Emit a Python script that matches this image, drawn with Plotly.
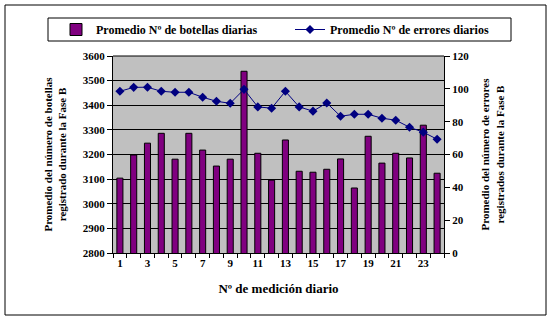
import plotly.graph_objects as go

days = list(range(1, 25))
botellas = [3104, 3198, 3246, 3286, 3181, 3286, 3218, 3153, 3181, 3538, 3205, 3096,
            3259, 3132, 3128, 3140, 3182, 3064, 3274, 3165, 3205, 3186, 3319, 3124]
errores = [98.5, 100.9, 101.0, 98.5, 97.9, 97.9, 94.9, 92.4, 91.2, 99.7, 89.0, 88.2,
           98.5, 89.0, 86.4, 91.4, 83.3, 84.5, 84.5, 82.1, 80.9, 76.6, 73.6, 69.3]
x_ticks = list(range(1, 24, 2))

FONT = "Times New Roman, Liberation Serif, serif"
L, R, T, B = 113, 444, 56, 253
W, H = 552, 321
pw, ph = R - L, B - T


def px(x):
    return (x - L) / pw


def py(y):
    return (B - y) / ph


leg_common = dict(
    orientation="h", yanchor="top", y=py(15),
    bgcolor="rgba(0,0,0,0)", borderwidth=0,
    font=dict(family=FONT, size=12, color="black", weight="bold"),
    itemwidth=30,
)

fig = go.Figure()
fig.add_trace(go.Bar(
    x=days, y=botellas, name="Promedio Nº de botellas diarias",
    marker=dict(color="#800080", line=dict(color="black", width=1)),
    yaxis="y", legend="legend",
))
fig.add_trace(go.Scatter(
    x=days, y=errores, name="Promedio Nº de errores diarios",
    mode="lines+markers",
    line=dict(color="#000080", width=1),
    marker=dict(symbol="diamond", size=7, color="#000080"),
    yaxis="y2", legend="legend2",
))

fig.update_layout(
    width=W, height=H,
    margin=dict(l=L, r=W - R, t=T, b=H - B, pad=0, autoexpand=False),
    paper_bgcolor="white", plot_bgcolor="#C0C0C0",
    bargap=0.56,
    font=dict(family=FONT, size=11, color="black"),
    showlegend=True,
    legend=dict(x=px(56), xanchor="left", **leg_common),
    legend2=dict(x=px(290), xanchor="left", **leg_common),
    xaxis=dict(
        range=[0.5, 24.5], tickvals=x_ticks,
        ticks="", showgrid=False, zeroline=False, automargin=False,
        showline=True, linecolor="black", linewidth=1,
        minor=dict(ticks="outside", tick0=0.5, dtick=1, ticklen=4, tickcolor="black", showgrid=False),
        title=dict(text="Nº de medición diario", standoff=15,
                   font=dict(family=FONT, size=13, weight="bold")),
        tickfont=dict(family=FONT, size=11, weight="bold"),
    ),
    yaxis=dict(
        range=[2800, 3600], dtick=100, tick0=2800, automargin=False,
        showgrid=True, gridcolor="black", gridwidth=1,
        zeroline=False, showline=True, linecolor="black", linewidth=1,
        ticks="outside", ticklen=5, tickcolor="black",
        tickformat="d",
        tickfont=dict(family=FONT, size=11, weight="bold"),
        title=dict(text="Promedio del número de botellas<br>registrado durante la Fase B",
                   standoff=13, font=dict(family=FONT, size=11, weight="bold")),
    ),
    yaxis2=dict(
        range=[0, 120], dtick=20, tick0=0, overlaying="y", side="right", automargin=False,
        showgrid=False, zeroline=False, showline=True, linecolor="black", linewidth=1,
        ticks="outside", ticklen=5, tickcolor="black",
        tickfont=dict(family=FONT, size=11, weight="bold"),
        title=dict(text="Promedio del número de errores<br>registrados durante la Fase B",
                   standoff=13, font=dict(family=FONT, size=11, weight="bold")),
    ),
    shapes=[
        dict(type="rect", xref="paper", yref="paper",
             x0=px(5), x1=px(546), y0=py(315), y1=py(5),
             line=dict(color="black", width=1), fillcolor="rgba(0,0,0,0)", layer="below"),
        dict(type="rect", xref="paper", yref="paper",
             x0=px(48), x1=px(511), y0=py(41), y1=py(18),
             line=dict(color="black", width=1), fillcolor="rgba(0,0,0,0)", layer="below"),
        dict(type="line", xref="paper", yref="paper", x0=0, x1=1, y0=1, y1=1,
             line=dict(color="black", width=1)),
    ],
)

fig.write_html(
    "out.html",
    config={"displayModeBar": False},
    post_script="document.body.style.margin='0';document.body.style.padding='0';"
                "document.body.style.overflow='hidden';",
)
